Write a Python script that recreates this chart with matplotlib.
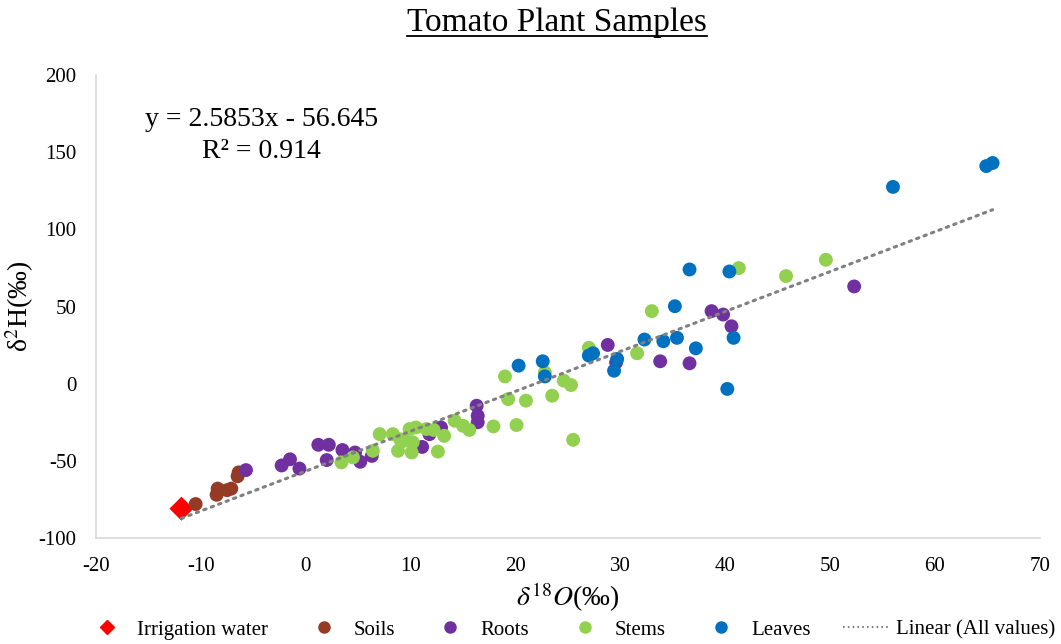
import numpy as np
import matplotlib
matplotlib.use("Agg")
import matplotlib.pyplot as plt
from matplotlib.lines import Line2D

plt.rcParams['font.family'] = ['Liberation Serif', 'DejaVu Serif']
plt.rcParams['mathtext.fontset'] = 'stix'
plt.rcParams['axes.unicode_minus'] = False

# Datos
irrig_x = [-11.85]
irrig_y = [-81.0]

soils_x = [-10.5, -8.5, -8.4, -7.5, -7.1, -6.5, -6.4]
soils_y = [-78, -72, -68, -69, -68, -60, -57.5]

roots_x = [-5.7, -2.3, -1.5, -0.6, 1.2, 2.2, 3.5, 2.0, 4.7, 5.2, 6.3, 11.1, 11.8, 12.9,
           16.3, 16.4, 16.4, 28.8, 29.6, 33.8, 36.6, 38.7, 39.8, 40.6, 52.3]
roots_y = [-56, -53, -49, -55, -39.6, -39.6, -43, -49.5, -44.6, -50.6, -46.8, -41, -32.7, -28.4,
           -14.3, -20.8, -25, 25.1, 13.8, 14.5, 13.2, 47, 44.8, 37.2, 63]

stems_x = [3.4, 4.5, 6.4, 7.05, 8.3, 8.8, 9.0, 9.4, 9.9, 10.1, 10.2, 10.5, 11.5, 12.2, 12.6,
           13.2, 14.2, 15.0, 15.6, 17.9, 19.0, 19.3, 20.1, 21.0, 22.8, 23.5, 24.6, 25.3,
           25.5, 27.0, 31.6, 33.0, 41.3, 45.8, 49.6]
stems_y = [-51, -47.8, -43.5, -32.7, -32.7, -43.5, -36, -37, -29.4, -44.6, -38, -28.4, -29.4,
           -30, -44, -33.8, -24, -27.3, -30, -27.7, 4.7, -10, -26.8, -11, 7.3, -7.8, 2, -0.9,
           -36.4, 23.2, 19.7, 47, 74.9, 69.7, 80.3]

leaves_x = [20.3, 22.6, 22.8, 27.0, 27.4, 29.4, 29.7, 32.3, 34.1, 35.2, 35.4, 36.6, 37.2,
            40.2, 40.4, 40.8, 56.0, 64.9, 65.5]
leaves_y = [11.7, 14.5, 4.7, 18.2, 19.7, 8.4, 16, 28.6, 27.5, 50.2, 29.7, 74, 22.9,
            -3.4, 72.7, 29.7, 127.5, 141, 143]

# Línea de tendencia (ecuación mostrada en el gráfico)
slope = 2.5853
intercept = -56.645
r2 = 0.914

fig = plt.figure(figsize=(10.61, 6.44), dpi=100)
ax = fig.add_axes([0.0905, 0.1646, 0.8895, 0.7189])

ms = 100
ax.scatter(irrig_x, irrig_y, s=150, marker='D', color='#FF0000', edgecolors='none', zorder=3)
ax.scatter(soils_x, soils_y, s=ms, color='#953A24', edgecolors='none', zorder=3)
ax.scatter(roots_x, roots_y, s=ms, color='#7030A0', edgecolors='none', zorder=3)
ax.scatter(stems_x, stems_y, s=ms, color='#92D050', edgecolors='none', zorder=3)
ax.scatter(leaves_x, leaves_y, s=ms, color='#0070C0', edgecolors='none', zorder=3)

all_x = np.concatenate([irrig_x, soils_x, roots_x, stems_x, leaves_x])
tx = np.array([all_x.min(), all_x.max()])
ax.plot(tx, slope * tx + intercept, color='#808080', lw=2.2,
        linestyle=(0, (0.8, 1.8)), dash_capstyle='round', zorder=4)

ax.set_xlim(-20, 70)
ax.set_ylim(-100, 200)
ax.set_xticks(np.arange(-20, 71, 10))
ax.set_yticks(np.arange(-100, 201, 50))
ax.tick_params(length=0, labelsize=15, pad=14)
for s in ['top', 'right']:
    ax.spines[s].set_visible(False)
for s in ['left', 'bottom']:
    ax.spines[s].set_color('#D9D9D9')
    ax.spines[s].set_linewidth(1.2)

ax.set_xlabel(r'$\delta^{18}O$(‰)', fontsize=20, labelpad=3)
ax.set_ylabel(r'δ$^{2}$H(‰)', fontsize=20, labelpad=2)

ax.text(0.175, 0.93, f'y = {slope}x - {abs(intercept)}\nR² = {r2}', transform=ax.transAxes,
        ha='center', va='top', fontsize=20, linespacing=1.35)

title = fig.text(0.525, 0.964, 'Tomato Plant Samples', ha='center', va='center', fontsize=24)
fig.canvas.draw()
bb = title.get_window_extent().transformed(fig.transFigure.inverted())
fig.add_artist(Line2D([bb.x0, bb.x1], [bb.y0 + 0.004, bb.y0 + 0.004], color='black', lw=1.3))

handles = [
    Line2D([], [], marker='D', color='#FF0000', ls='none', markersize=7),
    Line2D([], [], marker='o', color='#953A24', ls='none', markersize=8),
    Line2D([], [], marker='o', color='#7030A0', ls='none', markersize=8),
    Line2D([], [], marker='o', color='#92D050', ls='none', markersize=8),
    Line2D([], [], marker='o', color='#0070C0', ls='none', markersize=8),
    Line2D([], [], color='#808080', lw=1.5, linestyle=(0, (0.8, 1.5))),
]
labels = ['Irrigation water', 'Soils', 'Roots', 'Stems', 'Leaves', 'Linear (All values)']
fig.legend(handles, labels, loc='center', bbox_to_anchor=(0.537, 0.022), ncol=6,
           frameon=False, fontsize=15, handlelength=2.2, handletextpad=0.35,
           columnspacing=1.55)

fig.savefig('out.png', dpi=100)
